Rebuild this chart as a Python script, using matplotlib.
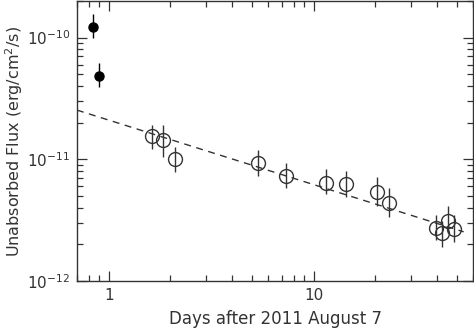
import matplotlib
matplotlib.use("Agg")
import matplotlib.pyplot as plt
import numpy as np

# early points (filled)
t_early = [0.84, 0.90]
f_early = [1.22e-10, 4.8e-11]
f_early_hi = [1.55e-10, 6.2e-11]
f_early_lo = [1.0e-10, 3.9e-11]

# later points (open)
t_late = [1.63, 1.84, 2.10, 5.35, 7.31, 11.5, 14.4, 20.4, 23.4, 39.4, 42.2, 45.2, 48.7]
f_late = [1.54e-11, 1.44e-11, 1.0e-11, 9.35e-12, 7.3e-12, 6.44e-12, 6.3e-12,
          5.37e-12, 4.4e-12, 2.72e-12, 2.47e-12, 3.13e-12, 2.68e-12]
f_late_hi = [1.92e-11, 1.92e-11, 1.27e-11, 1.2e-11, 9.35e-12, 8.3e-12, 8.0e-12,
             7.14e-12, 5.8e-12, 3.49e-12, 3.13e-12, 4.1e-12, 3.49e-12]
f_late_lo = [1.22e-11, 1.05e-11, 7.9e-12, 7.3e-12, 5.8e-12, 5.2e-12, 4.94e-12,
             4.1e-12, 3.34e-12, 2.17e-12, 1.89e-12, 2.47e-12, 2.1e-12]

# power law fit F = norm * t^index
fit_norm = 2.1e-11
fit_index = -0.53
fit_range = [0.7, 54]

col = "#333333"
plt.rcParams["font.family"] = "DejaVu Sans"

fig = plt.figure(figsize=(4.74, 3.30), dpi=100)
ax = fig.add_axes([0.1624, 0.1485, 0.8356, 0.8485])

tf = np.array(t_early); ff = np.array(f_early)
ax.errorbar(tf, ff, yerr=[ff - np.array(f_early_lo), np.array(f_early_hi) - ff],
            fmt="o", color="black", ms=6.5, elinewidth=1.0, capsize=0)

tl = np.array(t_late); fl = np.array(f_late)
ax.errorbar(tl, fl, yerr=[fl - np.array(f_late_lo), np.array(f_late_hi) - fl],
            fmt="o", mfc="none", mec=col, color=col, ms=10, mew=1.0,
            elinewidth=1.0, capsize=0)

tt = np.logspace(np.log10(fit_range[0]), np.log10(fit_range[1]), 50)
ax.plot(tt, fit_norm * tt ** fit_index, ls=(0, (5, 4)), color=col, lw=1.0)

ax.set_xscale("log")
ax.set_yscale("log")
ax.set_xlim(0.7, 60)
ax.set_ylim(1e-12, 2e-10)
ax.set_xticks([1, 10])
ax.set_xticklabels(["1", "10"])
ax.set_yticks([1e-12, 1e-11, 1e-10])
ax.set_yticklabels(["$10^{-12}$", "$10^{-11}$", "$10^{-10}$"])
ax.tick_params(which="both", direction="in", top=True, right=True, color=col,
               labelcolor=col, labelsize=11, width=0.9)
ax.tick_params(which="major", length=7, pad=5)
ax.tick_params(which="minor", length=4)
for s in ax.spines.values():
    s.set_color(col)
    s.set_linewidth(1.0)

ax.set_xlabel("Days after 2011 August 7", color=col, fontsize=12, labelpad=5)
ax.set_ylabel("Unabsorbed Flux (erg/cm$^2$/s)", color=col, fontsize=11.5)
ax.yaxis.set_label_coords(-0.132, 0.5)

fig.savefig("out.png", dpi=100)
